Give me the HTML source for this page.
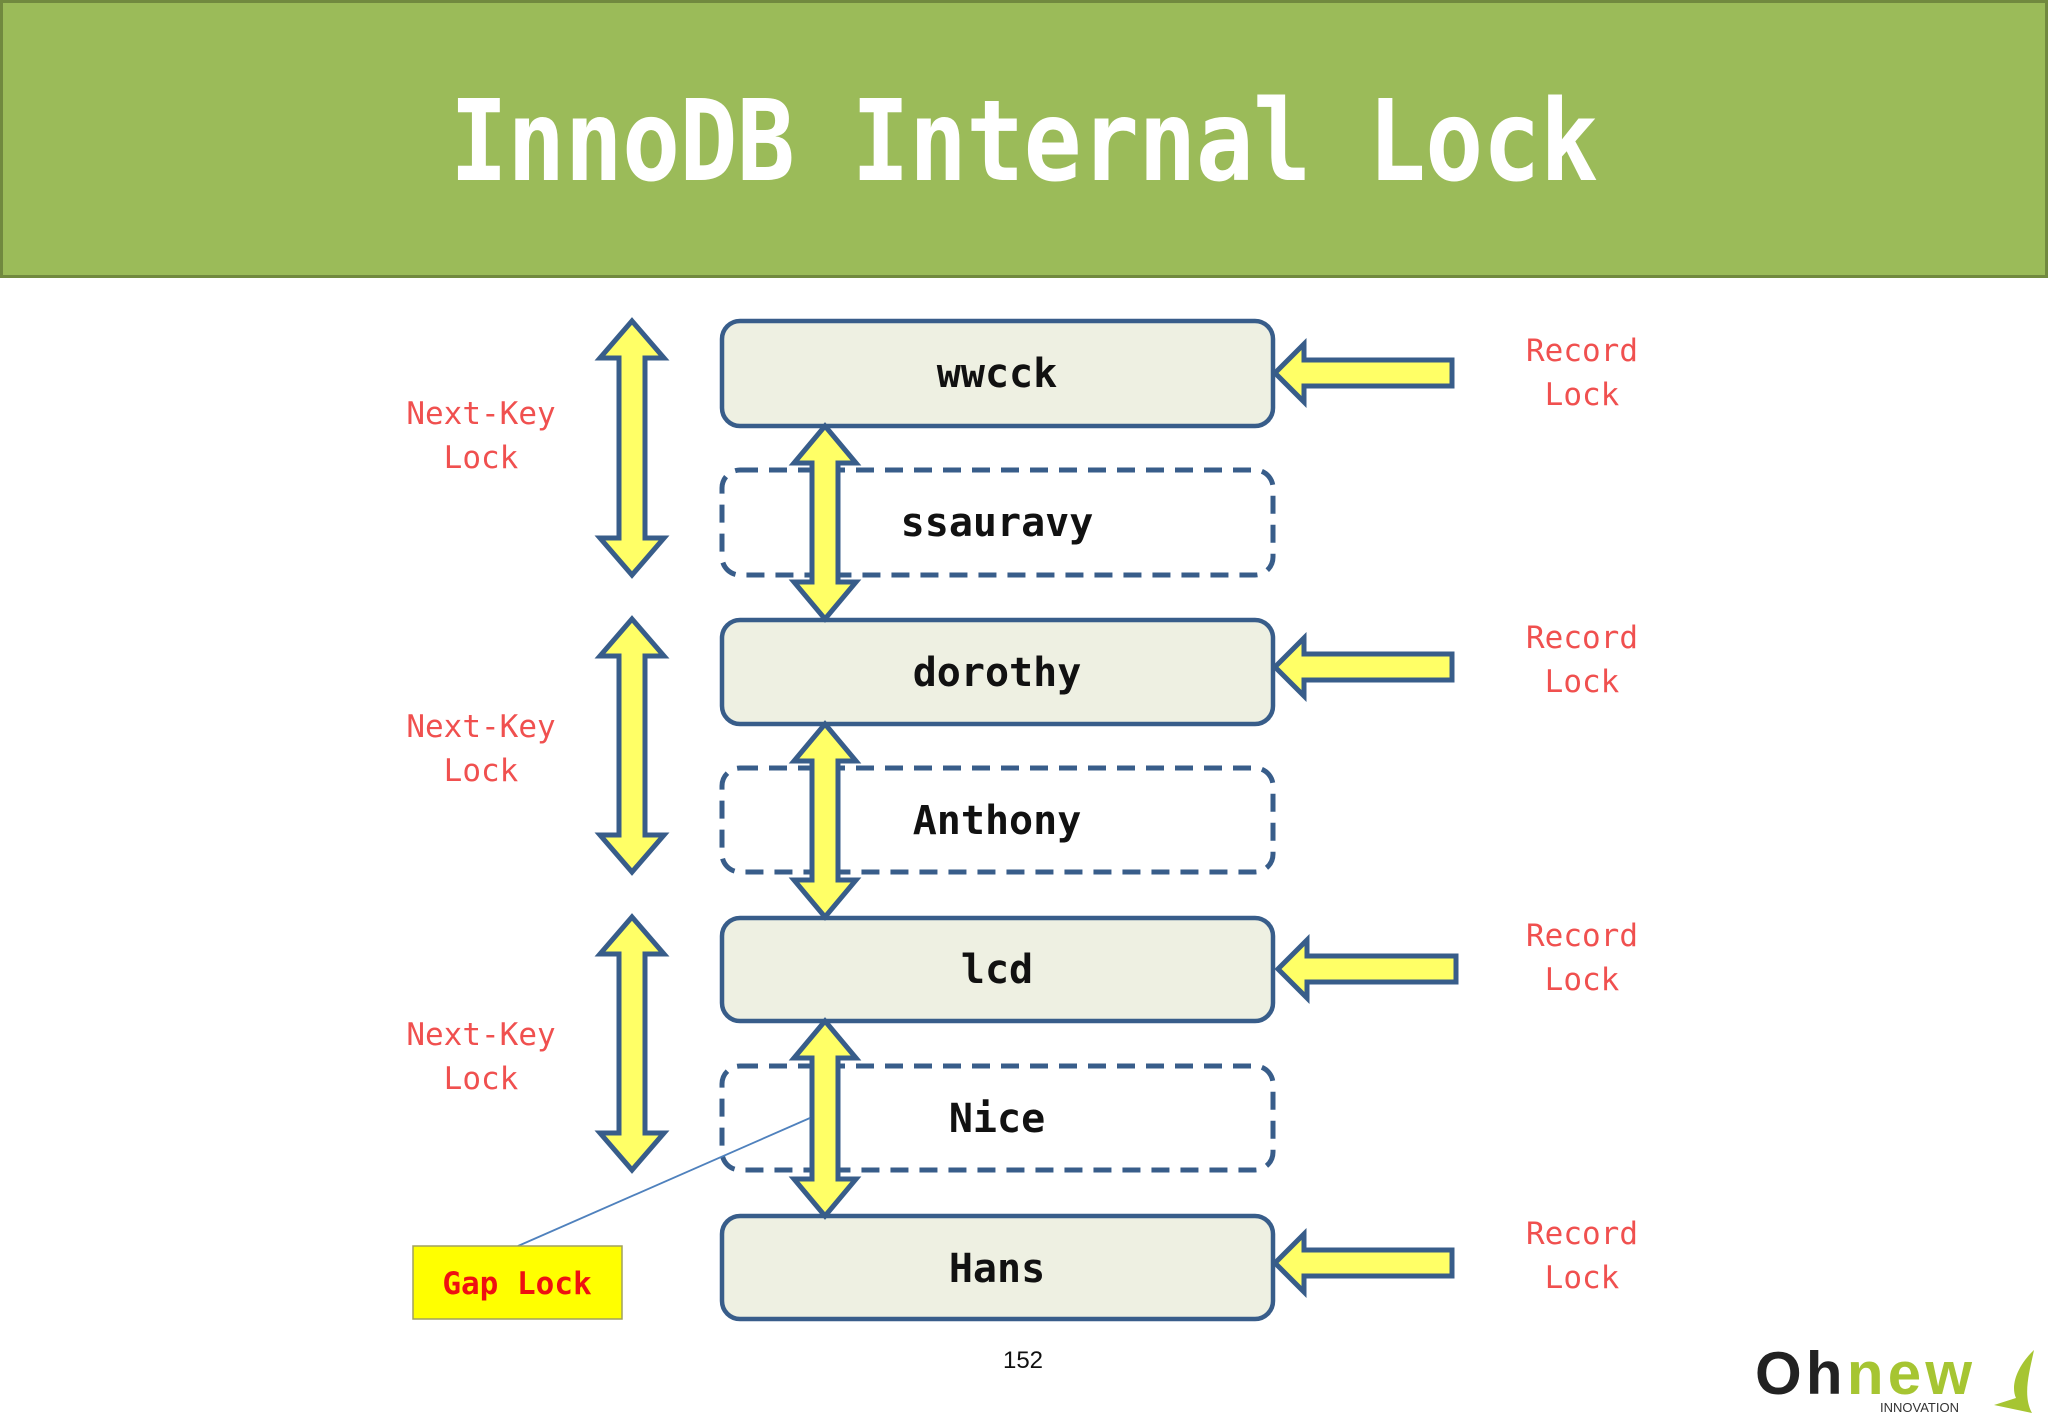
<!DOCTYPE html>
<html><head><meta charset="utf-8"><style>
html,body{margin:0;padding:0;background:#fff;}
svg{display:block}
</style></head><body>
<svg width="2048" height="1418" viewBox="0 0 2048 1418" xmlns="http://www.w3.org/2000/svg">
<rect x="0" y="0" width="2048" height="1418" fill="#fff"/>
<rect x="1.5" y="1.5" width="2045" height="275" fill="#9bbb59" stroke="#71893f" stroke-width="3"/>
<text x="1024" y="180" text-anchor="middle" font-family="DejaVu Sans Mono, Liberation Mono, monospace" font-size="112" font-weight="bold" fill="#fff" transform="translate(1024 0) scale(0.86 1) translate(-1024 0)" textLength="1335">InnoDB Internal Lock</text>

<g stroke="#385d8a" stroke-width="4.5" fill="#eef0e2">
<rect x="722" y="321" width="551" height="105" rx="18"/>
<rect x="722" y="620" width="551" height="104" rx="18"/>
<rect x="722" y="918" width="551" height="103" rx="18"/>
<rect x="722" y="1216" width="551" height="103" rx="18"/>
</g>
<g stroke="#385d8a" stroke-width="5" fill="#fff" stroke-dasharray="18 11">
<rect x="722" y="470" width="551" height="105" rx="18"/>
<rect x="722" y="768" width="551" height="104" rx="18"/>
<rect x="722" y="1066" width="551" height="104" rx="18"/>
</g>

<g font-family="DejaVu Sans Mono, Liberation Mono, monospace" font-size="40" font-weight="bold" fill="#111" text-anchor="middle">
<text x="997" y="387">wwcck</text>
<text x="997" y="536">ssauravy</text>
<text x="997" y="686">dorothy</text>
<text x="997" y="834">Anthony</text>
<text x="997" y="983">lcd</text>
<text x="997" y="1132">Nice</text>
<text x="997" y="1282">Hans</text>
</g>

<g fill="#ffff66" stroke="#385d8a" stroke-width="5" stroke-linejoin="miter">
<polygon points="632,321 664,358 645,358 645,538 664,538 632,575 600,538 619,538 619,358 600,358"/>
<polygon points="632,619 664,656 645,656 645,835 664,835 632,872 600,835 619,835 619,656 600,656"/>
<polygon points="632,917 664,954 645,954 645,1133 664,1133 632,1170 600,1133 619,1133 619,954 600,954"/>
<polygon points="825,426 856,463 838,463 838,582 856,582 825,619 794,582 812,582 812,463 794,463"/>
<polygon points="825,724 856,761 838,761 838,880 856,880 825,917 794,880 812,880 812,761 794,761"/>
<polygon points="825,1021 856,1058 838,1058 838,1179 856,1179 825,1216 794,1179 812,1179 812,1058 794,1058"/>
<polygon points="1275,373 1304,344 1304,360 1452,360 1452,386 1304,386 1304,402"/>
<polygon points="1275,667 1304,638 1304,654 1452,654 1452,680 1304,680 1304,696"/>
<polygon points="1278,969 1307,940 1307,956 1456,956 1456,982 1307,982 1307,998"/>
<polygon points="1275,1263 1304,1234 1304,1250 1452,1250 1452,1276 1304,1276 1304,1292"/>
</g>

<g font-family="DejaVu Sans Mono, Liberation Mono, monospace" font-size="31" fill="#f0504f" text-anchor="middle">
<text x="481" y="424">Next-Key</text><text x="481" y="468">Lock</text>
<text x="481" y="737">Next-Key</text><text x="481" y="781">Lock</text>
<text x="481" y="1045">Next-Key</text><text x="481" y="1089">Lock</text>
<text x="1582" y="361">Record</text><text x="1582" y="405">Lock</text>
<text x="1582" y="648">Record</text><text x="1582" y="692">Lock</text>
<text x="1582" y="946">Record</text><text x="1582" y="990">Lock</text>
<text x="1582" y="1244">Record</text><text x="1582" y="1288">Lock</text>
</g>

<line x1="518" y1="1246" x2="810" y2="1118" stroke="#4f81bd" stroke-width="1.8"/>
<rect x="413" y="1246" width="209" height="73" fill="#ffff00" stroke="#a0a060" stroke-width="1.5"/>
<text x="517" y="1294" text-anchor="middle" font-family="DejaVu Sans Mono, Liberation Mono, monospace" font-size="31" font-weight="bold" fill="#ee1111">Gap Lock</text>

<text x="1023" y="1368" text-anchor="middle" font-family="Liberation Sans, sans-serif" font-size="24" fill="#111">152</text>

<text x="1755" y="1394" font-family="Liberation Sans, sans-serif" font-size="60" font-weight="bold" letter-spacing="-2" fill="#222" textLength="215">Oh<tspan fill="#a6c532">new</tspan></text>
<text x="1880" y="1412" font-family="Liberation Sans, sans-serif" font-size="13" fill="#333">INNOVATION</text>
<path d="M2034,1350 C2018,1365 2010,1385 2016,1398 L1994,1405 L2032,1413 C2022,1395 2030,1370 2034,1350 Z" fill="#a6c532"/>
</svg>
</body></html>
